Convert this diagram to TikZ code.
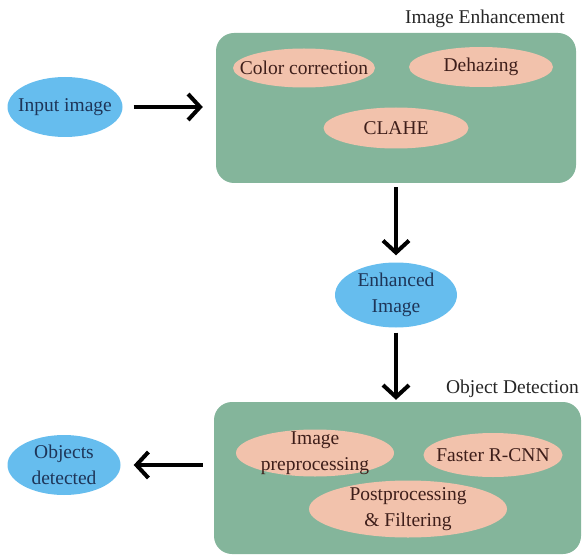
\documentclass[tikz,border=0pt]{standalone}
\usepackage{fontspec}
\setmainfont{Liberation Serif}
\usetikzlibrary{shapes.geometric,arrows.meta}
\definecolor{boxgreen}{HTML}{84B59B}
\definecolor{bluefill}{HTML}{66BDEE}
\definecolor{pinkfill}{HTML}{F2C2AC}
\definecolor{navytext}{HTML}{1E3558}
\definecolor{browntext}{HTML}{3E1E1A}
\begin{document}
\begin{tikzpicture}[x=1pt,y=-1pt,
  every node/.style={font=\fontsize{19.5}{25.5}\selectfont, align=center, inner sep=0pt},
  bluell/.style={ellipse, fill=bluefill, label={[text=navytext]center:#1}},
  pinkell/.style={ellipse, fill=pinkfill, label={[text=browntext]center:#1}},
  stagebox/.style={rectangle, rounded corners=18pt, fill=boxgreen},
  stagelabel/.style={text=black!85, anchor=east},
  flow/.style={line width=4pt, -{Straight Barb[length=12pt,width=26pt,line width=4pt]}}
]
\useasboundingbox (0,0) rectangle (583,556);
% boxes
\node[stagebox, minimum width=360pt, minimum height=150pt] (enh) at (396,108) {};
\node[stagebox, minimum width=367pt, minimum height=152pt] (det) at (397.5,478) {};
% labels
\node[stagelabel] (enhlabel) at (565,19) {Image Enhancement};
\node[stagelabel] (detlabel) at (579,389) {Object Detection};
% ellipses
\node[bluell={Input image}, minimum width=115pt, minimum height=60pt] (input) at (65,107) {};
\node[pinkell={Color correction}, minimum width=142pt, minimum height=39pt] (color) at (304,68) {};
\node[pinkell={Dehazing}, minimum width=144pt, minimum height=40pt] (dehaze) at (481,67) {};
\node[pinkell={CLAHE}, minimum width=145pt, minimum height=41pt] (clahe) at (396,128) {};
\node[bluell={Enhanced\\Image}, minimum width=122pt, minimum height=65pt] (enhimg) at (396,295) {};
\node[pinkell={Image\\preprocessing}, minimum width=158pt, minimum height=47pt] (prep) at (315,453) {};
\node[pinkell={Faster R-CNN}, minimum width=139pt, minimum height=44pt] (frcnn) at (493,455) {};
\node[pinkell={Postprocessing\\\& Filtering}, minimum width=198pt, minimum height=57pt] (post) at (408,509) {};
\node[bluell={Objects\\detected}, minimum width=113pt, minimum height=60pt] (objs) at (64,465) {};
% connectors
\draw[flow, shorten <=11pt, shorten >=13pt] (input.east) -- (input -| enh.west);
\draw[flow, shorten <=4pt, shorten >=7pt] (enh.south) -- (enhimg.north);
\draw[flow, shorten <=5pt, shorten >=2pt] (enhimg.south) -- (enhimg.south |- det.north);
\draw[flow, shorten <=11pt, shorten >=13pt] (objs -| det.west) -- (objs.east);
\end{tikzpicture}
\end{document}
